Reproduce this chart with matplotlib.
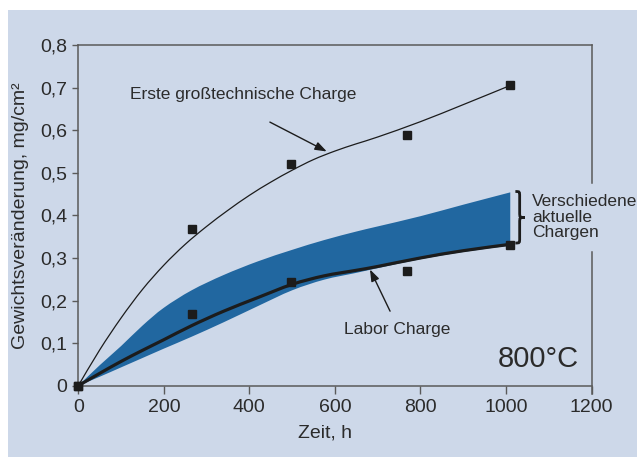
import matplotlib
matplotlib.use("Agg")
import numpy as np
import matplotlib.pyplot as plt
from matplotlib.patches import Rectangle, PathPatch
from matplotlib.path import Path

plt.rcParams['font.family'] = ['Liberation Sans', 'DejaVu Sans']

# --- data -------------------------------------------------------------
# measured samples (time in h, weight gain in mg/cm^2)
meas_time = [0, 265, 497, 768, 1010]
erste_meas = [0.0, 0.368, 0.521, 0.588, 0.705]
labor_meas = [0.0, 0.169, 0.243, 0.269, 0.331]

# fitted curve of the first industrial-scale heat
erste_time = [0, 50, 100, 150, 200, 250, 300, 350, 400, 450, 500, 550, 600,
              650, 700, 800, 900, 1010]
erste_fit = [0.0, 0.084, 0.159, 0.226, 0.283, 0.332, 0.374, 0.412, 0.447,
             0.478, 0.506, 0.531, 0.551, 0.568, 0.584, 0.620, 0.660, 0.705]

# laboratory heat curve and band of current heats
band_time = [0, 50, 100, 150, 200, 265, 340, 420, 500, 575, 650, 700, 800,
             900, 1010]
labor_fit = [0.0, 0.029, 0.057, 0.083, 0.108, 0.141, 0.175, 0.207, 0.238,
             0.258, 0.271, 0.280, 0.300, 0.317, 0.332]
band_upper = [0.0, 0.048, 0.093, 0.141, 0.183, 0.224, 0.260, 0.292, 0.319,
              0.342, 0.362, 0.374, 0.398, 0.425, 0.454]
band_lower = [0.0, 0.021, 0.043, 0.065, 0.087, 0.115, 0.149, 0.187, 0.224,
              0.249, 0.265, 0.276, 0.297, 0.314, 0.329]

x_ticks = [0, 200, 400, 600, 800, 1000, 1200]
y_ticks = [0, 0.1, 0.2, 0.3, 0.4, 0.5, 0.6, 0.7, 0.8]
y_tick_labels = ['0', '0,1', '0,2', '0,3', '0,4', '0,5', '0,6', '0,7', '0,8']

# --- style --------------------------------------------------------------
bg = '#cdd8e9'
band_color = '#2167a0'
ink = '#2b2b2b'
line_ink = '#1c1c1c'
spine_color = '#5a5a5a'


def smooth_segments(xs, ys):
    """Bezier vertices/codes of a Catmull-Rom curve through (xs, ys)."""
    p = np.column_stack([xs, ys]).astype(float)
    ext = np.vstack([p[0], p, p[-1]])
    verts, codes = [], []
    for i in range(len(p) - 1):
        p0, p1, p2, p3 = ext[i], ext[i + 1], ext[i + 2], ext[i + 3]
        c1 = p1 + (p2 - p0) / 6.0
        c2 = p2 - (p3 - p1) / 6.0
        verts += [tuple(c1), tuple(c2), tuple(p2)]
        codes += [Path.CURVE4] * 3
    return verts, codes


def smooth_path(xs, ys):
    v, c = smooth_segments(xs, ys)
    return Path([(xs[0], ys[0])] + v, [Path.MOVETO] + c)


def band_path(xs, lo, hi):
    v1, c1 = smooth_segments(xs, hi)
    v2, c2 = smooth_segments(xs[::-1], lo[::-1])
    verts = [(xs[0], hi[0])] + v1 + [(xs[-1], lo[-1])] + v2 + [(0, 0)]
    codes = [Path.MOVETO] + c1 + [Path.LINETO] + c2 + [Path.CLOSEPOLY]
    return Path(verts, codes)


fig = plt.figure(figsize=(6.37, 4.57), dpi=100)
fig.patch.set_facecolor('white')
fig.patches.append(Rectangle((8 / 637, 0), 1, 1 - 10 / 457,
                             transform=fig.transFigure, facecolor=bg,
                             edgecolor='none', zorder=-10))

ax = fig.add_axes([0.1229, 0.156, 0.8057, 0.7455])
ax.set_facecolor('none')

ax.add_patch(PathPatch(band_path(band_time, band_lower, band_upper),
                       facecolor=band_color, edgecolor='none', zorder=2))
ax.add_patch(PathPatch(smooth_path(erste_time, erste_fit), facecolor='none',
                       edgecolor=line_ink, linewidth=0.9, zorder=3))
ax.add_patch(PathPatch(smooth_path(band_time, labor_fit), facecolor='none',
                       edgecolor=line_ink, linewidth=2.3, zorder=4,
                       capstyle='butt'))
ax.plot(meas_time, erste_meas, linestyle='none', marker='s', markersize=6,
        color=line_ink, zorder=5, clip_on=False)
ax.plot(meas_time, labor_meas, linestyle='none', marker='s', markersize=6,
        color=line_ink, zorder=5, clip_on=False)

ax.set_xlim(0, 1200)
ax.set_ylim(0, 0.8)
ax.set_xticks(x_ticks)
ax.set_xticklabels([str(v) for v in x_ticks])
ax.set_yticks(y_ticks)
ax.set_yticklabels(y_tick_labels)
ax.tick_params(axis='x', direction='out', length=6, width=1.0,
               color=spine_color, labelsize=14, labelcolor=ink, pad=3.5)
ax.tick_params(axis='y', direction='out', length=4.5, width=1.0,
               color=spine_color, labelsize=14, labelcolor=ink, pad=3.5)

for side in ['left', 'bottom', 'top']:
    ax.spines[side].set_color(spine_color)
    ax.spines[side].set_linewidth(1.1)
ax.spines['right'].set_visible(False)
# right frame with an opening for the bracket label
ax.plot([1, 1], [0.595, 1], transform=ax.transAxes, color=spine_color,
        linewidth=1.1, clip_on=False, zorder=1)
ax.plot([1, 1], [-0.025, 0.392], transform=ax.transAxes, color=spine_color,
        linewidth=1.1, clip_on=False, zorder=1)

ax.set_xlabel('Zeit, h', fontsize=14, color=ink, labelpad=1)
ax.xaxis.set_label_coords(0.48, -0.115)
ax.set_ylabel('Gewichtsveränderung, mg/cm²', fontsize=14, color=ink,
              labelpad=8)

arrow_style = dict(arrowstyle='-|>,head_length=0.7,head_width=0.25',
                   color=line_ink, linewidth=1.0, shrinkA=0, shrinkB=0)
ax.text(121, 0.683, 'Erste großtechnische Charge', fontsize=12.5,
        color=ink, va='center', ha='left')
ax.annotate('', xy=(581, 0.550), xytext=(448, 0.619),
            arrowprops=arrow_style)
ax.text(621, 0.131, 'Labor Charge', fontsize=12.5, color=ink,
        va='center', ha='left')
ax.annotate('', xy=(682, 0.273), xytext=(729, 0.175),
            arrowprops=arrow_style)
ax.text(1170, 0.063, '800°C', fontsize=21, color=ink, va='center',
        ha='right')

# curly bracket next to the band end
x0, xm, xt = 1022, 1032, 1044
yt, ymid, yb = 0.456, 0.395, 0.335
q = 0.012
verts = [(x0, yt), (xm, yt), (xm, yt), (xm, yt - q),
         (xm, ymid + q),
         (xm, ymid), (xm, ymid), (xt, ymid),
         (xm, ymid), (xm, ymid), (xm, ymid - q),
         (xm, yb + q),
         (xm, yb), (xm, yb), (x0, yb)]
codes = [Path.MOVETO, Path.CURVE4, Path.CURVE4, Path.CURVE4,
         Path.LINETO,
         Path.CURVE4, Path.CURVE4, Path.CURVE4,
         Path.CURVE4, Path.CURVE4, Path.CURVE4,
         Path.LINETO,
         Path.CURVE4, Path.CURVE4, Path.CURVE4]
ax.add_patch(PathPatch(Path(verts, codes), facecolor='none',
                       edgecolor=line_ink, linewidth=2.0, clip_on=False,
                       zorder=5))
ax.text(1061, 0.396, 'Verschiedene\naktuelle\nChargen', fontsize=12.5,
        color=ink, va='center', ha='left', linespacing=1.05)

fig.savefig('out.png', dpi=100, facecolor=fig.get_facecolor())
